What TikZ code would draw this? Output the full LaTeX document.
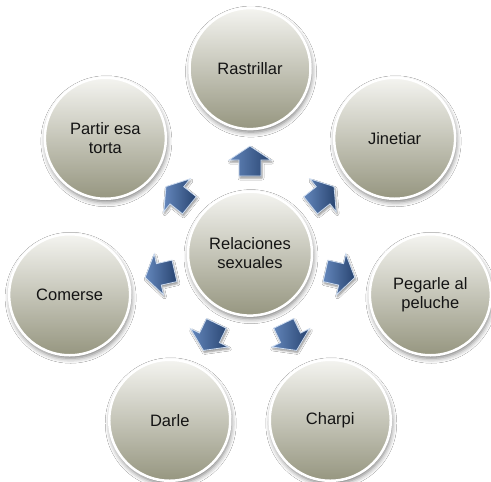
\documentclass[tikz,border=0pt]{standalone}
\usepackage{fontspec}
\setmainfont{Liberation Sans}
\usetikzlibrary{shadows.blur,calc}
\definecolor{ctop}{RGB}{244,244,240}
\definecolor{cmid}{RGB}{222,222,213}
\definecolor{cbot}{RGB}{150,150,128}
\definecolor{atop}{RGB}{100,135,188}
\definecolor{abot}{RGB}{40,68,112}
\definecolor{aedge}{RGB}{205,220,240}
\definecolor{txt}{RGB}{20,20,20}
\tikzset{
  bubble/.style={circle, minimum size=121pt, inner sep=0pt,
    top color=ctop, middle color=cmid, bottom color=cbot, draw=white, line width=2.5pt,
    align=center, font=\fontsize{16.5}{19}\selectfont, text=txt,
    blur shadow={shadow xshift=1pt, shadow yshift=-3pt,
      shadow blur radius=5pt, shadow opacity=55}},
  hubble/.style={bubble, minimum size=124pt},
  barrow/.style={left color=atop, right color=abot, draw=aedge, line width=0.8pt,
    line join=miter,
    blur shadow={shadow xshift=1pt, shadow yshift=-2pt,
      shadow blur radius=2pt, shadow opacity=45}}
}
\begin{document}
\begin{tikzpicture}[x=1pt,y=1pt]
  \fill[white] (0,0) rectangle (491,482);
  \useasboundingbox (0,0) rectangle (491,482);
  \coordinate (c) at (250,228.4);
  \foreach \k/\name in {0/s0,1/s1,2/s2,3/s3,4/s4,5/s5,6/s6}{
    \pgfmathsetmacro{\ang}{90-\k*360/7}
    \coordinate (\name) at ($(c)+(\ang:185)$);
    \coordinate (m\k) at ($(c)!0.5!(\name)$);
    \begin{scope}[shift={(m\k)}, rotate=\ang]
      \path[barrow] (-15,-11) -- (1,-11) -- (1,-21) -- (15,0) -- (1,21)
        -- (1,11) -- (-15,11) -- cycle;
    \end{scope}
  }
  \node[hubble] (hub) at (c) {Relaciones\\sexuales};
  \node[bubble] (n0) at (s0) {Rastrillar};
  \node[bubble] (n1) at (s1) {Jinetiar};
  \node[bubble] (n2) at (s2) {Pegarle al\\peluche};
  \node[bubble] (n3) at (s3) {Charpi};
  \node[bubble] (n4) at (s4) {Darle};
  \node[bubble] (n5) at (s5) {Comerse};
  \node[bubble] (n6) at (s6) {Partir esa\\torta};
\end{tikzpicture}
\end{document}
